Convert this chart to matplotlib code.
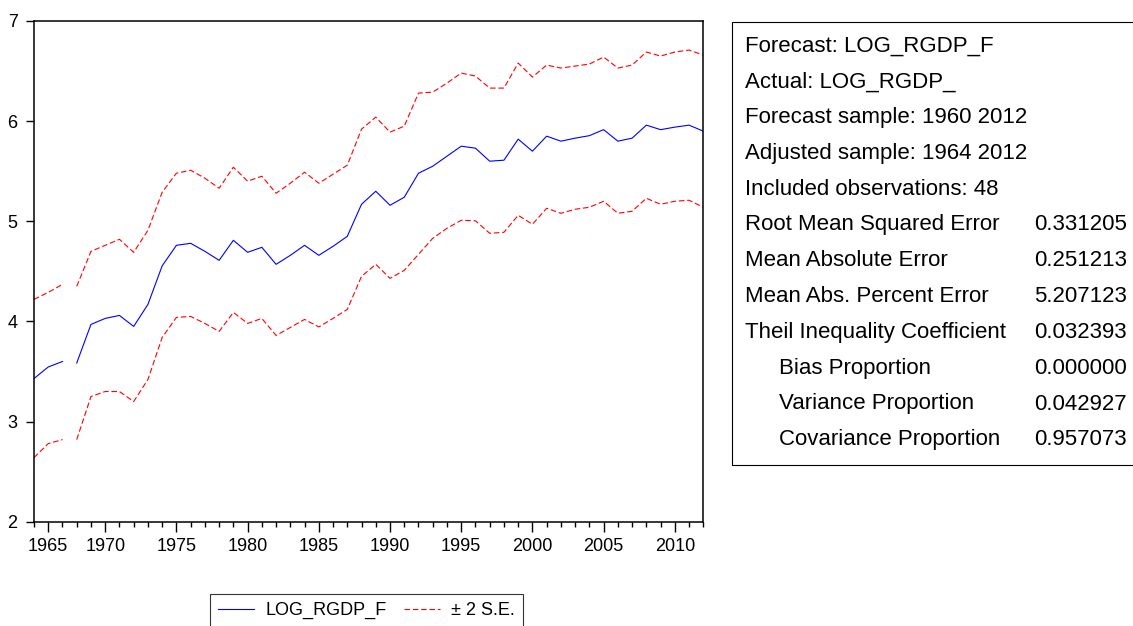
import matplotlib
matplotlib.use('Agg')
import matplotlib.pyplot as plt
from matplotlib.patches import Rectangle

# Datos (1965-2012)
anios = list(range(1965, 2013))
pronostico = [3.43, 3.545, 3.60, 3.585, 3.97, 4.03, 4.06, 3.95, 4.17, 4.555, 4.76, 4.78, 4.70, 4.61, 4.81,
              4.69, 4.74, 4.57, 4.66, 4.76, 4.66, 4.75, 4.85, 5.17, 5.30, 5.16, 5.24, 5.48, 5.55, 5.65, 5.75,
              5.73, 5.60, 5.61, 5.82, 5.70, 5.85, 5.80, 5.83, 5.855, 5.915, 5.80, 5.83, 5.96, 5.915, 5.94, 5.96, 5.90]
banda_sup = [4.22, 4.29, 4.37, 4.35, 4.70, 4.76, 4.82, 4.69, 4.91, 5.29, 5.48, 5.51, 5.43, 5.33, 5.54,
             5.40, 5.45, 5.28, 5.38, 5.49, 5.38, 5.47, 5.56, 5.92, 6.04, 5.89, 5.95, 6.28, 6.29, 6.38, 6.48,
             6.45, 6.33, 6.33, 6.58, 6.44, 6.56, 6.53, 6.55, 6.57, 6.64, 6.53, 6.56, 6.69, 6.65, 6.69, 6.71, 6.66]
banda_inf = [2.64, 2.78, 2.82, 2.82, 3.25, 3.30, 3.30, 3.20, 3.42, 3.84, 4.04, 4.05, 3.98, 3.90, 4.09,
             3.98, 4.03, 3.86, 3.94, 4.02, 3.945, 4.03, 4.12, 4.45, 4.57, 4.43, 4.51, 4.67, 4.83, 4.93, 5.01,
             5.005, 4.88, 4.89, 5.06, 4.97, 5.13, 5.08, 5.12, 5.14, 5.20, 5.08, 5.10, 5.23, 5.17, 5.20, 5.21, 5.14]
corte = 3  # la linea se interrumpe entre 1967 y 1968

# Etiquetas del eje x como aparecen en EViews
pos_etiquetas = [1966, 1970, 1975, 1980, 1985, 1990, 1995, 2000, 2005, 2010]
etiquetas = ['1965', '1970', '1975', '1980', '1985', '1990', '1995', '2000', '2005', '2010']

estad_nombres = ['Forecast: LOG_RGDP_F', 'Actual: LOG_RGDP_', 'Forecast sample: 1960 2012',
                 'Adjusted sample: 1964 2012', 'Included observations: 48',
                 'Root Mean Squared Error', 'Mean Absolute Error', 'Mean Abs. Percent Error',
                 'Theil Inequality Coefficient', 'Bias Proportion', 'Variance Proportion',
                 'Covariance Proportion']
estad_valores = ['', '', '', '', '', '0.331205', '0.251213', '5.207123', '0.032393',
                 '0.000000', '0.042927', '0.957073']
sangria = [False] * 9 + [True] * 3

plt.rcParams['font.family'] = ['Liberation Sans', 'DejaVu Sans']
tam_ejes = 13
tam_cuadro = 16

W, H = 1133, 626
fig = plt.figure(figsize=(W / 100, H / 100), dpi=100)
ax = fig.add_axes([34 / W, 1 - 521.7 / H, (703.3 - 34) / W, (521.7 - 21) / H])

azul = '#0000ff'
rojo = '#ff0000'
for ini, fin in [(0, corte), (corte, len(anios))]:
    ax.plot(anios[ini:fin], pronostico[ini:fin], color=azul, lw=0.8,
            label='LOG_RGDP_F' if ini == 0 else None)
    ax.plot(anios[ini:fin], banda_sup[ini:fin], color=rojo, lw=0.8, dashes=(5, 2.5),
            label='± 2 S.E.' if ini == 0 else None)
    ax.plot(anios[ini:fin], banda_inf[ini:fin], color=rojo, lw=0.8, dashes=(5, 2.5))

ax.set_xlim(1965, 2012)
ax.set_ylim(2, 7)
ax.set_yticks([2, 3, 4, 5, 6, 7])
ax.set_xticks(pos_etiquetas)
ax.set_xticklabels(etiquetas)
ax.set_xticks(anios, minor=True)
ax.tick_params(axis='x', which='major', length=7.5, width=1, labelsize=tam_ejes, pad=4)
ax.tick_params(axis='x', which='minor', length=3.8, width=1)
ax.tick_params(axis='y', which='major', length=5.8, width=1, labelsize=tam_ejes, pad=6)
for s in ax.spines.values():
    s.set_linewidth(1.1)

fig.legend(loc='upper left', bbox_to_anchor=(210 / W, 1 - 594 / H), borderaxespad=0,
           ncol=2, fontsize=tam_ejes, frameon=True, fancybox=False, edgecolor='black',
           handlelength=2.0, handletextpad=0.6, columnspacing=1.0, borderpad=0.45)
fig.legends[0].get_frame().set_linewidth(0.8)

# Cuadro de estadisticos
fig.patches.append(Rectangle((731.7 / W, 1 - 465 / H), 0.4, (465 - 21.7) / H,
                             transform=fig.transFigure, fill=False, ec='black', lw=0.8))
for i in range(len(estad_nombres)):
    y = 1 - (46 + i * 35.8) / H
    x = 779 if sangria[i] else 745
    fig.text(x / W, y, estad_nombres[i], fontsize=tam_cuadro, va='center', ha='left')
    if estad_valores[i]:
        fig.text(1127 / W, y, estad_valores[i], fontsize=tam_cuadro, va='center', ha='right')

plt.savefig('out.png', dpi=100)
